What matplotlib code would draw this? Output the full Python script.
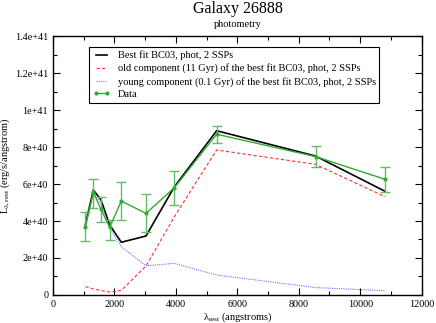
import matplotlib
matplotlib.use('Agg')
import matplotlib.pyplot as plt
from matplotlib.ticker import MultipleLocator, FuncFormatter

# wavelengths (angstroms)
wave = [1051, 1313, 1562, 1845, 2224, 3027, 3950, 5327, 8550, 10817]

# observed photometry and errors (erg/s/angstrom)
data = [3.69e40, 5.55e40, 4.63e40, 3.66e40, 5.08e40, 4.41e40, 5.80e40, 8.69e40, 7.48e40, 6.25e40]
err_hi = [4.50e40, 6.25e40, 5.28e40, 4.05e40, 6.09e40, 5.44e40, 6.70e40, 9.15e40, 8.07e40, 6.94e40]
err_lo = [2.90e40, 4.69e40, 3.95e40, 2.97e40, 4.07e40, 3.42e40, 4.85e40, 8.23e40, 6.92e40, 5.59e40]

# best fit and its two components
best = [3.80e40, 5.68e40, 5.14e40, 3.78e40, 2.85e40, 3.19e40, 5.85e40, 8.88e40, 7.51e40, 5.60e40]
old = [0.45e40, 0.33e40, 0.24e40, 0.16e40, 0.25e40, 1.57e40, 4.23e40, 7.84e40, 7.06e40, 5.31e40]
young = [3.60e40, 5.53e40, 4.95e40, 3.60e40, 2.61e40, 1.58e40, 1.71e40, 1.08e40, 0.40e40, 0.23e40]

labels = ['Best fit BC03, phot, 2 SSPs',
          'old component (11 Gyr) of the best fit BC03, phot, 2 SSPs',
          'young component (0.1 Gyr) of the best fit BC03, phot, 2 SSPs',
          'Data']

plt.rcParams['font.family'] = ['Liberation Serif', 'DejaVu Serif']
plt.rcParams['mathtext.fontset'] = 'custom'
plt.rcParams['mathtext.rm'] = 'Liberation Serif'
plt.rcParams['mathtext.it'] = 'Liberation Serif'

fig = plt.figure(figsize=(4.36, 3.23), dpi=100)
ax = fig.add_axes([0.1216, 0.0867, 0.8454, 0.8018])

ax.plot(wave, best, color='black', lw=1.2, label=labels[0])
ax.plot(wave, old, color='#ff3030', lw=0.8, ls=(0, (3, 2)), label=labels[1])
ax.plot(wave, young, color='#7070ff', lw=0.8, ls=(0, (1, 1)), label=labels[2])

# error bars drawn separately so the legend shows a plain line with markers
yerr = [[d - lo for d, lo in zip(data, err_lo)], [hi - d for d, hi in zip(data, err_hi)]]
ax.errorbar(wave, data, yerr=yerr, fmt='none', ecolor='#66bb66',
            elinewidth=1.0, capsize=3.5, capthick=1.0)
ax.plot(wave, data, color='#33aa33', lw=1.0, marker='o', ms=2, label=labels[3])

ax.set_xlim(0, 12000)
ax.set_ylim(0, 1.4e41)
ax.xaxis.set_major_locator(MultipleLocator(2000))
ax.xaxis.set_minor_locator(MultipleLocator(1000))
ax.yaxis.set_major_locator(MultipleLocator(2e40))
ax.yaxis.set_minor_locator(MultipleLocator(1e40))


def sci(v, pos):
    if v == 0:
        return '0'
    return '%g' % v


ax.yaxis.set_major_formatter(FuncFormatter(sci))
ax.tick_params(which='both', direction='in', top=True, right=True, labelsize=7.3)
ax.tick_params(which='major', length=5, width=0.8)
ax.tick_params(which='minor', length=3, width=0.8)
for sp in ax.spines.values():
    sp.set_linewidth(1.0)

ax.set_xlabel(r'$\lambda_{rest}$ (angstroms)', fontsize=7.5, labelpad=1)
ax.set_ylabel(r'L$_{\lambda,rest}$ (erg/s/angstrom)', fontsize=7.5, labelpad=2)

fig.text(0.545, 0.972, 'Galaxy 26888', ha='center', va='center', fontsize=11.5)
fig.text(0.545, 0.925, 'photometry', ha='center', va='center', fontsize=7.5)

leg = ax.legend(loc='upper left', bbox_to_anchor=(0.0976, 0.9575), fontsize=7.5,
                frameon=True, fancybox=False, edgecolor='black', framealpha=1,
                borderpad=0.35, labelspacing=0.3, handlelength=1.7, handletextpad=0.7,
                borderaxespad=0, numpoints=2)
leg.get_frame().set_linewidth(0.8)

fig.savefig('out.png', dpi=100)
